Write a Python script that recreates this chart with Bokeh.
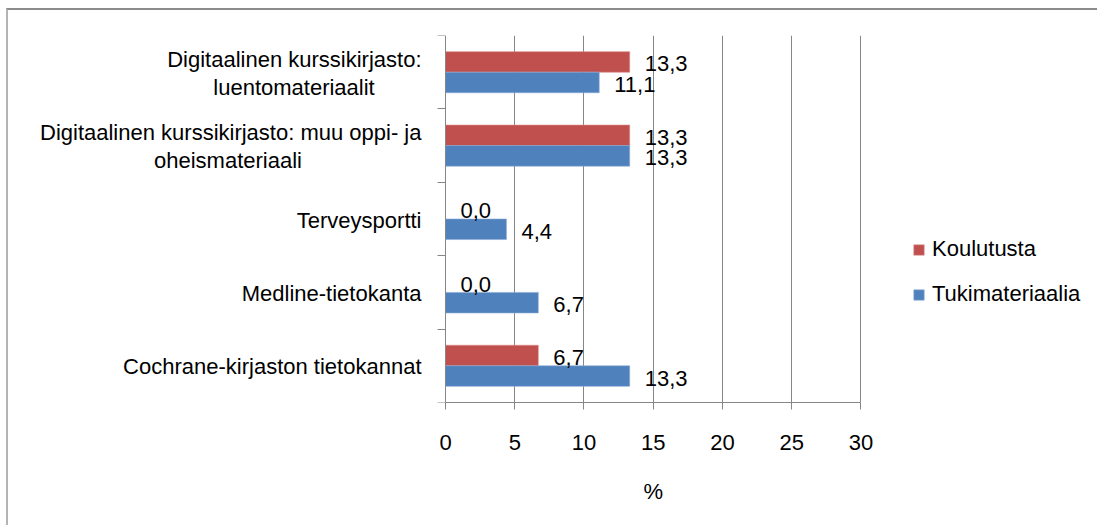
from bokeh.plotting import figure
from bokeh.models import (Range1d, FixedTicker, Legend, LegendItem, ColumnDataSource, Title)
from bokeh.core.properties import value
from bokeh.embed import file_html
from bokeh.resources import INLINE

# ---- data (bottom -> top) ----
categories = [
    "Cochrane-kirjaston tietokannat",
    "Medline-tietokanta",
    "Terveysportti",
    "Digitaalinen kurssikirjasto: muu oppi- ja\noheismateriaali",
    "Digitaalinen kurssikirjasto:\nluentomateriaalit",
]
koulutusta = [6.7, 0.0, 0.0, 13.3, 13.3]
tukimateriaalia = [13.3, 6.7, 4.4, 13.3, 11.1]
x_ticks = [0, 5, 10, 15, 20, 25, 30]
series_names = ["Koulutusta", "Tukimateriaalia"]
x_title = "%"

RED = "#C0504D"
BLUE = "#4F81BD"
GRID = "#868686"
FONT = "Liberation Sans"
FS = "22px"

# frame spans the whole chart width; the value axis covers 0..30 only
p = figure(width=1091, height=517, output_backend="svg", toolbar_location=None,
           x_range=Range1d(-30.83, 46.21), y_range=Range1d(0, 5),
           min_border_left=10, min_border_right=14, min_border_top=25, min_border_bottom=124)
p.styles = {"margin-left": "6px", "margin-top": "8px",
            "border-top": "2px solid #8c8c8c", "border-left": "2px solid #b4b4b4"}
p.outline_line_color = None
p.background_fill_color = "white"
p.border_fill_color = "white"

bh = 0.28
centers = [i + 0.5 for i in range(len(categories))]
src = ColumnDataSource(dict(
    yr=[c + bh / 2 for c in centers],
    yb=[c - bh / 2 for c in centers],
    k=koulutusta, t=tukimateriaalia,
    kl=[f"{v:.1f}".replace(".", ",") for v in koulutusta],
    tl=[f"{v:.1f}".replace(".", ",") for v in tukimateriaalia],
))

r_red = p.hbar(y="yr", left=0, right="k", height=bh, source=src, fill_color=RED,
               line_color="#d98986", line_width=0.6)
r_blue = p.hbar(y="yb", left=0, right="t", height=bh, source=src, fill_color=BLUE,
                line_color="#8aa9d4", line_width=0.6)

for xcol, ycol, lcol in (("k", "yr", "kl"), ("t", "yb", "tl")):
    p.text(x=xcol, y=ycol, text=lcol, source=src, x_offset=15, y_offset=2,
           text_font=value(FONT), text_font_size=FS, text_color="#000000",
           text_align="left", text_baseline="middle")

# axes
xa = p.xaxis[0]
xa.ticker = FixedTicker(ticks=x_ticks)
xa.bounds = (0, 30)
xa.axis_line_color = GRID
xa.major_tick_line_color = GRID
xa.major_tick_out = 7
xa.major_tick_in = 0
xa.minor_tick_line_color = None
xa.major_label_text_font = FONT
xa.major_label_text_font_size = FS
xa.major_label_text_color = "#000000"
xa.major_label_standoff = 25

# axis title centred under the 0..30 value axis
p.add_layout(Title(text=x_title, align="left", offset=625, standoff=48,
                   text_font=FONT, text_font_size=FS, text_font_style="normal",
                   text_color="#000000"), "below")

ya = p.yaxis[0]
ya.fixed_location = 0
ya.ticker = FixedTicker(ticks=[0, 1, 2, 3, 4, 5])
ya.axis_line_color = GRID
ya.major_tick_line_color = GRID
ya.major_tick_out = 8
ya.major_tick_in = 0
ya.minor_tick_line_color = None
ya.major_label_text_font_size = "0px"
ya.major_label_text_color = None

p.xgrid.ticker = FixedTicker(ticks=[5, 10, 15, 20, 25, 30])
p.xgrid.grid_line_color = GRID
p.ygrid.grid_line_color = None

# category labels: right-aligned block, second line centred under the first
first_widths = {"Digitaalinen kurssikirjasto:": 255,
                "Digitaalinen kurssikirjasto: muu oppi- ja": 387}
single = dict(x=[], y=[], t=[])
for c, name in zip(centers, categories):
    lines = name.split("\n")
    if len(lines) == 1:
        single["x"].append(0); single["y"].append(c); single["t"].append(lines[0])
    else:
        p.text(x=[0], y=[c], text=[lines[0]], x_offset=-24, y_offset=-13,
               text_align="right", text_baseline="middle",
               text_font=value(FONT), text_font_size=FS, text_color="#000000")
        p.text(x=[0], y=[c], text=[lines[1]], x_offset=-24 - first_widths[lines[0]] / 2,
               y_offset=15, text_align="center", text_baseline="middle",
               text_font=value(FONT), text_font_size=FS, text_color="#000000")
p.text(x="x", y="y", text="t", source=ColumnDataSource(single), x_offset=-24, y_offset=1,
       text_align="right", text_baseline="middle",
       text_font=value(FONT), text_font_size=FS, text_color="#000000")

legend = Legend(items=[LegendItem(label=series_names[0], renderers=[r_red]),
                       LegendItem(label=series_names[1], renderers=[r_blue])],
                location=(894, 95), padding=0, margin=0, spacing=19,
                glyph_width=13, glyph_height=13, label_standoff=7,
                label_text_font=FONT, label_text_font_size=FS, label_text_color="#000000",
                background_fill_alpha=0, border_line_color=None)
p.add_layout(legend, "center")

open("out.html", "w").write(file_html(p, INLINE))
